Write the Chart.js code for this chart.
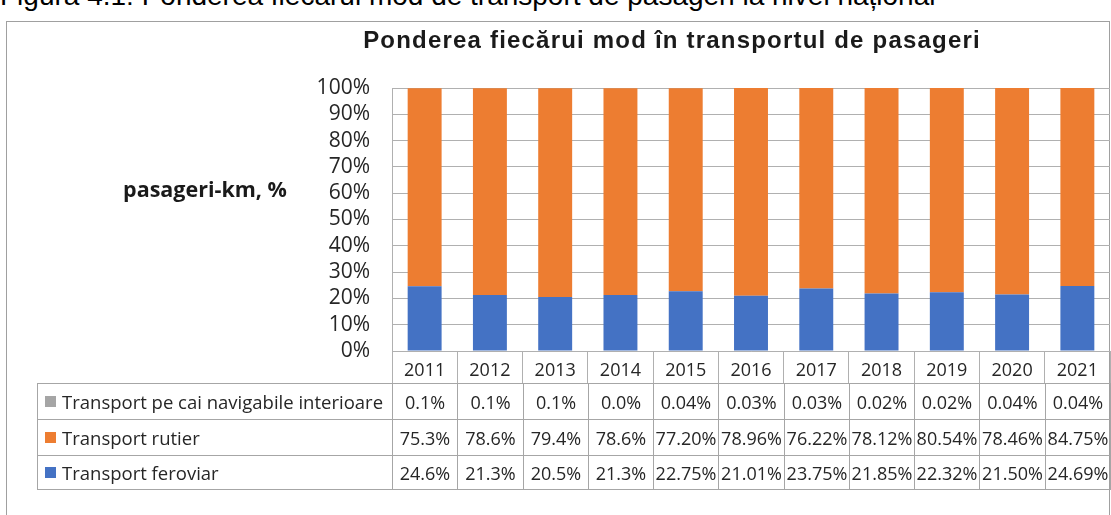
<!DOCTYPE html>
<html>
<head>
<meta charset="utf-8">
<script src="https://cdn.jsdelivr.net/npm/chart.js@4/dist/chart.umd.min.js"></script>
<style>
  html, body { margin: 0; padding: 0; background: #fff; }
  body { width: 1111px; height: 515px; position: relative; overflow: hidden; }
  #caption { position: absolute; left: 0; top: -23px; white-space: nowrap;
    font-family: "Liberation Sans", Arial, sans-serif; font-size: 28px; color: #000; line-height: 38px; }
  #frame { position: absolute; left: 6px; top: 21px; width: 1104px; height: 600px; border: 1px solid #a0a0a0; box-sizing: border-box; }
  #title { position: absolute; left: 272px; width: 800px; top: 26px; text-align: center;
    font-family: "Liberation Sans", Arial, sans-serif; font-weight: bold; font-size: 24px; letter-spacing: 1.2px; color: #1a1a1a; line-height: 28px; }
  #ytitle { position: absolute; left: 90px; width: 230px; top: 175px; text-align: center;
    font-family: "Open Sans", sans-serif; font-weight: bold; font-size: 21.5px; color: #1a1a1a; line-height: 28px; }
  canvas { position: absolute; left: 0; top: 0; }
  .cell { position: absolute; box-sizing: border-box; border-left: 1px solid #a6a6a6; border-top: 1px solid #a6a6a6;
    font-family: "Open Sans", sans-serif; font-size: 18px; color: #262626; display: flex; align-items: center; justify-content: center; white-space: nowrap; }
  .lab { justify-content: flex-start; padding-left: 7px; font-size: 18.5px; }
  .sw { display: inline-block; width: 11px; height: 11px; margin-right: 6px; }
</style>
</head>
<body>
<div id="caption">Figura 4.1: Ponderea fiecărui mod de transport de pasageri la nivel național</div>
<div id="frame"></div>
<canvas id="c" width="1111" height="515"></canvas>
<div id="title">Ponderea fiecărui mod în transportul de pasageri</div>
<div id="ytitle">pasageri-km, %</div>
<div id="table"></div>
<script>
const years = ["2011","2012","2013","2014","2015","2016","2017","2018","2019","2020","2021"];
const inlandWaterways = [0.1, 0.1, 0.1, 0.0, 0.04, 0.03, 0.03, 0.02, 0.02, 0.04, 0.04];
const roadTransport   = [75.3, 78.6, 79.4, 78.6, 77.20, 78.96, 76.22, 78.12, 80.54, 78.46, 84.75];
const railTransport   = [24.6, 21.3, 20.5, 21.3, 22.75, 21.01, 23.75, 21.85, 22.32, 21.50, 24.69];
const shownDecimals   = [1, 1, 1, 1, 2, 2, 2, 2, 2, 2, 2];
const yTicks = [0,10,20,30,40,50,60,70,80,90,100];

const seriesNames = {
  inland: "Transport pe cai navigabile interioare",
  road: "Transport rutier",
  rail: "Transport feroviar"
};
const colors = { inland: "#A5A5A5", road: "#ED7D31", rail: "#4472C4" };
const gridColor = "#b0b0b0";

const chart = new Chart(document.getElementById('c'), {
  type: 'bar',
  data: {
    labels: years,
    datasets: [
      { label: seriesNames.rail, data: railTransport, backgroundColor: colors.rail },
      { label: seriesNames.road, data: roadTransport, backgroundColor: colors.road },
      { label: seriesNames.inland, data: inlandWaterways, backgroundColor: colors.inland }
    ]
  },
  options: {
    responsive: false,
    animation: false,
    devicePixelRatio: 1,
    layout: { padding: { top: 88, right: 1, bottom: 132, left: 0 } },
    datasets: { bar: { categoryPercentage: 1.0, barPercentage: 0.52, borderWidth: 0 } },
    plugins: { legend: { display: false }, title: { display: false }, tooltip: { enabled: false } },
    scales: {
      x: {
        stacked: true,
        grid: { display: true, offset: true, drawOnChartArea: false, drawTicks: true, tickLength: 32, color: gridColor },
        border: { display: true, color: gridColor },
        ticks: { padding: -23, color: "#262626", font: { family: "Open Sans", size: 18 }, maxRotation: 0, autoSkip: false },
        afterFit: s => { s.height = 32; }
      },
      y: {
        stacked: true,
        min: 0, max: 100,
        afterBuildTicks: s => { s.ticks = yTicks.map(v => ({ value: v })); },
        grid: { color: gridColor, drawTicks: false },
        border: { display: true, color: gridColor },
        ticks: { autoSkip: false, stepSize: 10, padding: 22, color: "#262626", font: { family: "Open Sans", size: 21 }, callback: v => v + '%' },
        afterFit: s => { s.width = 392; }
      }
    }
  }
});

// Data table aligned to the chart's x scale
(function buildTable() {
  const xs = chart.scales.x;
  const colW = (xs.right - xs.left) / years.length;
  const rows = [
    { key: 'inland', vals: inlandWaterways, top: 383, h: 36 },
    { key: 'road', vals: roadTransport, top: 419, h: 36 },
    { key: 'rail', vals: railTransport, top: 455, h: 34 }
  ];
  const tbl = document.getElementById('table');
  const tableLeft = 37, tableBottom = 489;
  rows.forEach(r => {
    const lab = document.createElement('div');
    lab.className = 'cell lab';
    lab.style.left = tableLeft + 'px';
    lab.style.top = r.top + 'px';
    lab.style.width = (Math.round(xs.left) - tableLeft) + 'px';
    lab.style.height = r.h + 'px';
    lab.innerHTML = '<span class="sw" style="background:' + colors[r.key] + '"></span>' + seriesNames[r.key];
    tbl.appendChild(lab);
    r.vals.forEach((v, i) => {
      const cx = xs.getPixelForValue(i);
      const l = Math.round(cx - colW / 2), rgt = Math.round(cx + colW / 2);
      const c = document.createElement('div');
      c.className = 'cell';
      c.style.left = l + 'px';
      c.style.top = r.top + 'px';
      c.style.width = (rgt - l) + 'px';
      c.style.height = r.h + 'px';
      c.textContent = v.toFixed(shownDecimals[i]) + '%';
      tbl.appendChild(c);
    });
  });
  const right = Math.round(xs.right);
  const rb = document.createElement('div');
  rb.style.cssText = 'position:absolute;left:' + right + 'px;top:383px;width:1px;height:' + (tableBottom - 383) + 'px;background:#a6a6a6';
  tbl.appendChild(rb);
  const bb = document.createElement('div');
  bb.style.cssText = 'position:absolute;left:' + tableLeft + 'px;top:' + tableBottom + 'px;width:' + (right - tableLeft + 1) + 'px;height:1px;background:#a6a6a6';
  tbl.appendChild(bb);
})();
</script>
</body>
</html>
